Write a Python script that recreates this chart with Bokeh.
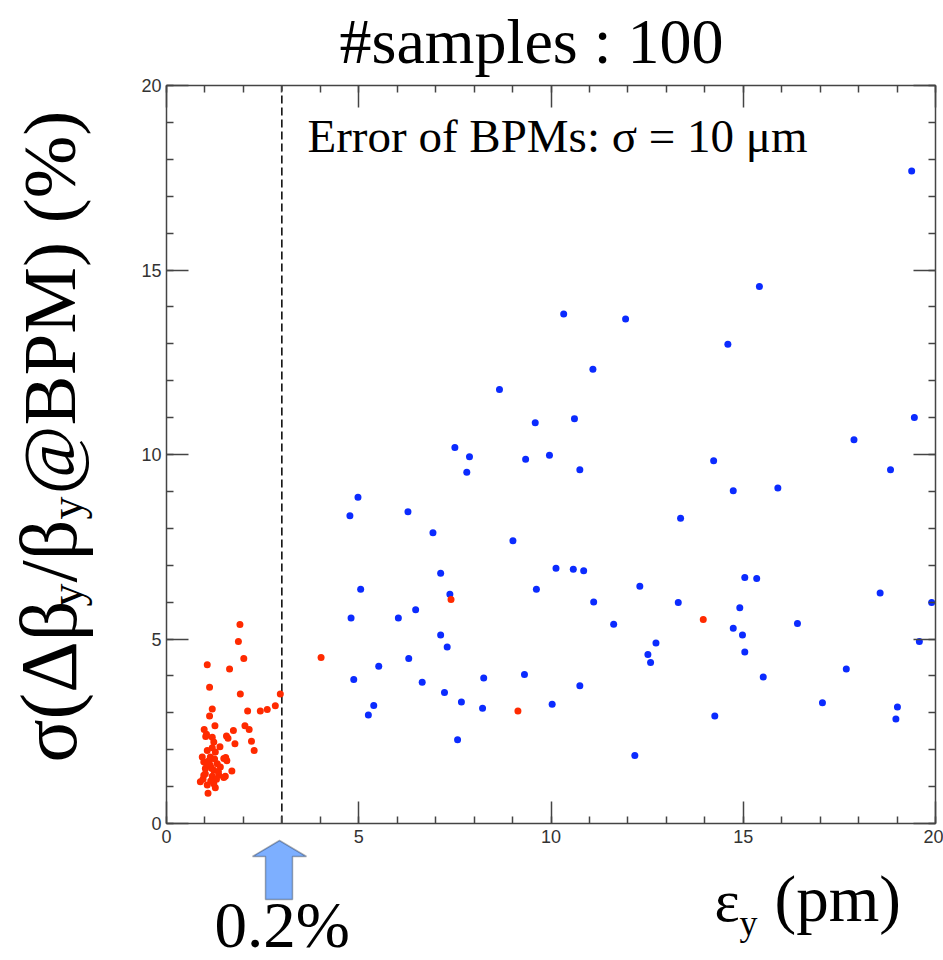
import math
from bokeh.plotting import figure
from bokeh.models import (LinearAxis, SingleIntervalTicker, Label, PolyAnnotation,
                          CustomJSTickFormatter)
from bokeh.embed import file_html
from bokeh.resources import INLINE

# ---------------- data ----------------
red_x = [1.91, 1.87, 2.01, 1.06, 1.64, 1.12, 1.92, 2.96, 2.83, 2.62, 2.44, 2.11, 1.19, 1.12,
         1.26, 0.98, 1.74, 2.04, 2.15, 1.56, 1.60, 1.78, 2.21, 2.28, 1.02, 1.19, 1.39, 1.54,
         1.57, 1.70, 1.53, 0.88, 1.08, 1.27, 1.04, 1.23, 1.06, 1.27, 1.49, 0.97, 1.01, 1.23,
         1.36, 1.49, 1.23, 0.97, 1.14, 0.93, 1.14, 1.32, 1.01, 1.19, 1.06, 1.40, 1.19, 1.10,
         1.30, 1.17, 0.95, 1.25, 1.15, 1.05, 1.35,
         4.02, 7.40, 9.14, 13.96]
red_y = [5.39, 4.93, 4.47, 4.30, 4.19, 3.69, 3.51, 3.51, 3.19, 3.09, 3.05, 3.05, 3.10, 2.91,
         2.65, 2.55, 2.52, 2.65, 2.55, 2.37, 2.31, 2.16, 2.23, 1.98, 2.36, 2.34, 2.08, 1.79,
         1.70, 1.42, 1.28, 1.13, 0.82, 0.97, 2.42, 2.21, 1.98, 1.94, 1.76, 1.67, 1.49, 1.44,
         1.31, 1.25, 1.08, 1.31, 1.58, 1.80, 1.80, 1.62, 1.35, 1.28, 1.04, 1.53, 2.05, 1.70,
         1.20, 1.50, 1.20, 1.75, 1.15, 1.60, 1.40,
         4.50, 6.07, 3.05, 5.53]

blue_x = [9.59, 10.61, 7.50, 7.88, 7.81, 9.34, 9.96, 10.75, 4.98, 4.77, 6.28, 6.93, 9.01,
          7.13, 10.13, 10.58, 10.85, 5.05, 9.62, 7.37, 11.11, 4.80, 6.03, 6.48, 11.63, 7.13,
          7.30, 5.52, 6.30, 4.87, 6.65, 8.25, 9.31, 10.75, 7.23, 5.39, 5.25, 7.67, 8.22,
          10.03, 7.57,
          15.42, 11.94, 14.60, 19.45, 17.88, 14.23, 18.83, 14.74, 15.90, 13.37, 12.31, 15.04,
          15.35, 13.31, 18.56, 19.90, 14.91, 16.41, 14.74, 14.98, 12.73, 19.58, 12.52, 12.59,
          15.04, 15.52, 17.68, 17.06, 19.01, 18.97, 14.26, 12.18,
          10.33, 11.09, 8.66, 19.38]
blue_y = [10.86, 10.97, 10.19, 9.94, 9.52, 9.87, 9.98, 9.59, 8.84, 8.34, 8.45, 7.88, 7.66,
          6.78, 6.92, 6.89, 6.85, 6.35, 6.35, 6.21, 6.00, 5.57, 5.57, 5.79, 5.40, 5.11,
          4.78, 4.26, 4.47, 3.90, 3.83, 3.94, 4.04, 3.73, 3.55, 3.20, 2.94, 3.29, 3.12,
          3.23, 2.27,
          14.55, 13.67, 12.99, 11.00, 10.40, 9.83, 9.59, 9.02, 9.09, 8.27, 6.43, 6.67,
          6.64, 5.99, 6.25, 5.99, 5.85, 5.42, 5.29, 5.11, 4.89, 4.93, 4.58, 4.36,
          4.65, 3.97, 4.19, 3.27, 3.16, 2.83, 2.91, 1.84,
          13.81, 12.31, 11.76, 17.68]

threshold_x = 3.0
XMIN, XMAX, YMIN, YMAX = 0, 20, 0, 20
tick_interval = 5

# ---------------- layout geometry (page pixels) ----------------
W, H = 943, 960
L, R, T, B = 166, 935, 85, 823          # where the data box sits on the page
sx = (XMAX - XMIN) / (R - L)
sy = (YMAX - YMIN) / (B - T)
x_range = (XMIN - L * sx, XMAX + (W - R) * sx)
y_range = (YMIN - (H - B) * sy, YMAX + T * sy)
BASE_SHIFT = 0.37   # correction (in em) between requested and drawn baseline


def at(px, py):
    """page pixel -> data coordinates (for annotations)"""
    return XMIN + (px - L) * sx, YMIN + (B - py) * sy


p = figure(width=W, height=H, x_range=x_range, y_range=y_range,
           output_backend="svg", toolbar_location=None,
           x_axis_location=None, y_axis_location=None, min_border=0,
           background_fill_color="white", border_fill_color="white")
p.grid.visible = False
p.outline_line_color = None

tick_color = "#444444"


def make_axis(loc, show_labels, bounds):
    ax = LinearAxis(fixed_location=loc, bounds=bounds)
    ax.ticker = SingleIntervalTicker(interval=tick_interval, num_minor_ticks=5)
    ax.axis_line_color = tick_color
    ax.axis_line_width = 1.5
    ax.major_tick_line_color = tick_color
    ax.major_tick_line_width = 1.5
    ax.minor_tick_line_color = tick_color
    ax.minor_tick_line_width = 1.5
    ax.major_tick_in = 22
    ax.major_tick_out = 0
    ax.minor_tick_in = 7
    ax.minor_tick_out = 0
    ax.major_label_text_font = "Liberation Sans"
    ax.major_label_text_font_size = "18px"
    ax.major_label_text_color = "#333333"
    if not show_labels:
        ax.formatter = CustomJSTickFormatter(code="return ''")
    return ax


xb = make_axis(YMIN, True, (XMIN, XMAX))
xb.major_label_standoff = 6
yl = make_axis(XMIN, True, (YMIN, YMAX))
yl.major_label_standoff = 5
xt = make_axis(YMAX, False, (XMIN, XMAX))
yr = make_axis(XMAX, False, (YMIN, YMAX))
p.add_layout(xb, "below")
p.add_layout(yl, "left")
p.add_layout(xt, "above")
p.add_layout(yr, "right")

# threshold line
p.segment(x0=[threshold_x], y0=[YMIN], x1=[threshold_x], y1=[YMAX],
          line_color="black", line_width=1.5, line_dash="8 4")

# points
p.scatter(x=blue_x, y=blue_y, size=7, color="#0B2BFF", line_color=None)
p.scatter(x=red_x, y=red_y, size=7, color="#FF2A00", line_color=None)

# ---------------- texts ----------------
SERIF = "Liberation Serif"


def lab(px, py, text, size, align="left"):
    """horizontal text; (px, py) = page position of the baseline start"""
    x, y = at(px, py - BASE_SHIFT * size)
    p.add_layout(Label(x=x, y=y, text=text, text_font=SERIF, text_font_size=f"{size}px",
                       text_align=align, text_baseline="alphabetic", text_color="black"))


def vlab(px, py, text, size):
    """text rotated 90 deg; px = page x of its baseline, py = page y where it starts"""
    x, y = at(px - BASE_SHIFT * size, py)
    p.add_layout(Label(x=x, y=y, text=text, text_font=SERIF, text_font_size=f"{size}px",
                       text_align="left", text_baseline="alphabetic", text_color="black",
                       angle=math.pi / 2))


lab(531, 65, "#samples : 100", 64, align="center")
lab(307, 153, "Error of BPMs: σ = 10 μm", 47)

# x-axis title: ε_y (pm)
lab(714, 923, "ε", 60)
lab(739, 936, "y", 36)
lab(774, 923, "(pm)", 65)

# 0.2% marker text
lab(214, 949, "0.2%", 65)

# y-axis title (rotated): σ(Δβ_y/β_y@BPM) (%)
vlab(78, 762, "σ(Δβ", 80)
vlab(83, 606, "y", 46)
vlab(78, 582, "/β", 80)
vlab(83, 519, "y", 46)
vlab(77, 494, "@BPM) (%)", 75)

# blue arrow pointing to the threshold
arrow_px = [(279, 840), (306, 856), (292, 856), (292, 899), (265, 899), (265, 856), (252, 856)]
xs, ys = zip(*[at(a, b) for a, b in arrow_px])
p.add_layout(PolyAnnotation(xs=list(xs), ys=list(ys), fill_color="#7DAFFF", fill_alpha=1.0,
                            line_color="black", line_width=1.5))

open("out.html", "w").write(file_html(p, INLINE))
